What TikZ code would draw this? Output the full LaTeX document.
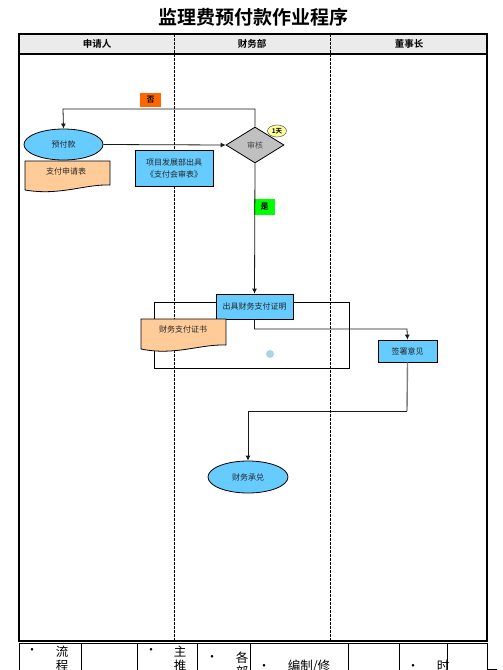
\documentclass[tikz,border=0pt]{standalone}
\usepackage{fontspec}
\setmainfont{Noto Sans CJK SC}[BoldFont={Noto Sans CJK SC Bold}]
\usetikzlibrary{shapes.geometric,arrows.meta}
\definecolor{boxblue}{HTML}{66CCFF}
\definecolor{peach}{HTML}{FFCC99}
\definecolor{hdrgray}{HTML}{EBEBEB}
\definecolor{dgray}{HTML}{C0C0C0}
\definecolor{noorange}{HTML}{FF6600}
\definecolor{yesgreen}{HTML}{00FF00}
\definecolor{dotblue}{HTML}{A8D4E6}
\definecolor{pale}{HTML}{FFFF99}
\tikzset{
  titletext/.style={font=\fontsize{19}{21}\selectfont\bfseries},
  hdrtext/.style={font=\fontsize{9.5}{11}\selectfont\bfseries},
  txt/.style={font=\fontsize{8}{11}\selectfont, text=black!85},
  bluebox/.style={draw=black, fill=boxblue, line width=0.8pt, inner sep=1pt, align=center, font=\fontsize{8}{12}\selectfont, text=black!85},
  oval/.style={ellipse, draw=black, fill=boxblue, line width=0.8pt, font=\fontsize{8}{11}\selectfont, text=black!85, inner sep=0pt},
  decision/.style={diamond, draw=black, fill=dgray, line width=0.8pt, font=\fontsize{8}{11}\selectfont, text=black!70, inner sep=0pt, aspect=1.6},
  tag/.style={font=\fontsize{8}{9}\selectfont\bfseries, inner sep=0pt},
  flow/.style={draw=black!90, line width=0.8pt, -{Latex[length=5pt,width=5pt]}},
  tbltext/.style={font=\fontsize{12.5}{13}\selectfont, inner sep=0pt},
  lane/.style={dashed, line width=0.7pt, dash pattern=on 2.5pt off 1.5pt},
  docshape/.style={fill=peach, draw=black, line width=0.8pt},
}
\begin{document}
\begin{tikzpicture}[x=1pt,y=-1pt]
\useasboundingbox (0,0) rectangle (503,670);
% title
\node[titletext] (title) at (253,17) {监理费预付款作业程序};
% header
\fill[hdrgray] (19,34) rectangle (487,54);
\node[hdrtext] (h1) at (97,44) {申请人};
\node[hdrtext] (h2) at (252,44) {财务部};
\node[hdrtext] (h3) at (409,44) {董事长};
% lanes
\draw[lane] (174,34) -- (174,642);
\draw[lane] (330,34) -- (330,642);
% frame
\draw[line width=1.6pt] (19,34) rectangle (487,641);
\draw[line width=1.6pt] (19,54) -- (487,54);

% group rectangle
\draw[line width=0.8pt] (154,302) rectangle (349,368);
\draw[line width=1.4pt] (156,302.5) -- (190,302.5);

% nodes
\node[oval, minimum width=79pt, minimum height=31pt] (pre) at (63.5,144.5) {预付款};
% document 1
\path[docshape] (25,161) -- (110,161) -- (110,185)
   .. controls (85,184) and (60,196) .. (25,190) -- cycle;
\node[txt] (doc1) at (66,171) {支付申请表};

\node[decision, minimum width=58pt, minimum height=36pt] (rev) at (255,145) {审核};
\node[ellipse, draw=black!60, fill=pale, line width=0.6pt, minimum width=19pt, minimum height=12pt, inner sep=0pt, font=\fontsize{6.5}{7}\selectfont\bfseries] (day) at (277,131) {1天};

\node[bluebox, minimum width=78pt, minimum height=36pt] (proj) at (174,168) {项目发展部出具\\《支付会审表》};

\node[tag, fill=noorange, minimum width=21pt, minimum height=14pt] (no) at (150.5,100) {否};
\node[tag, fill=yesgreen, minimum width=21pt, minimum height=16pt] (yes) at (264.5,207) {是};

\node[bluebox, minimum width=77pt, minimum height=25pt] (cert) at (254.5,306.5) {出具财务支付证明};
% document 2
\path[docshape] (141,319) -- (226,319) -- (226,345)
   .. controls (200,344) and (175,356) .. (141,349) -- cycle;
\node[txt] (doc2) at (183,329) {财务支付证书};
\fill[dotblue] (270,354) circle (4);
\coordinate (dot) at (270,354);

\node[bluebox, minimum width=59pt, minimum height=22pt] (sign) at (407.5,351) {签署意见};
\node[oval, minimum width=80pt, minimum height=32pt] (acc) at (248,477) {财务承兑};

% connectors
\draw[flow] (pre.east) -- (rev.west);
\draw[flow] (rev.north) |- (63,109) -- (pre.north);
\draw[flow] (rev.south) -- (cert.north);
\draw[flow] (cert.south) |- (407,329) -- (sign.north);
\draw[draw=black!50, line width=1.4pt] (sign.south) -- (407,411);
\draw[flow] (407,411) -- (248,411) -- (acc.north);

% bottom table
\draw[line width=0.6pt] (19,643) -- (487,643);
\foreach \xx in {19,81,137,197,250,348,399,447,487}
  \draw[line width=0.6pt] (\xx,643) -- (\xx,671);
\draw[line width=0.6pt] (487,669.5) -- (497,669.5);
\begin{scope}
\clip (0,643) rectangle (503,670);
\node[tbltext] (b1) at (32,651) {•};
\node[tbltext] (t1) at (62,652) {流};
\node[tbltext] (t1b) at (62,666) {程};
\node[tbltext] (b2) at (151,651) {•};
\node[tbltext] (t2) at (180,652) {主};
\node[tbltext] (t2b) at (180,666) {推};
\node[tbltext] (b3) at (212,658) {•};
\node[tbltext] (t3) at (242,658) {各};
\node[tbltext] (t3b) at (242,672) {部};
\node[tbltext] (b4) at (264,667) {•};
\node[tbltext] (t4) at (309,666) {编制/修};
\node[tbltext] (b5) at (413,667) {•};
\node[tbltext] (t5) at (443,666) {时};
\end{scope}
\end{tikzpicture}
\end{document}
